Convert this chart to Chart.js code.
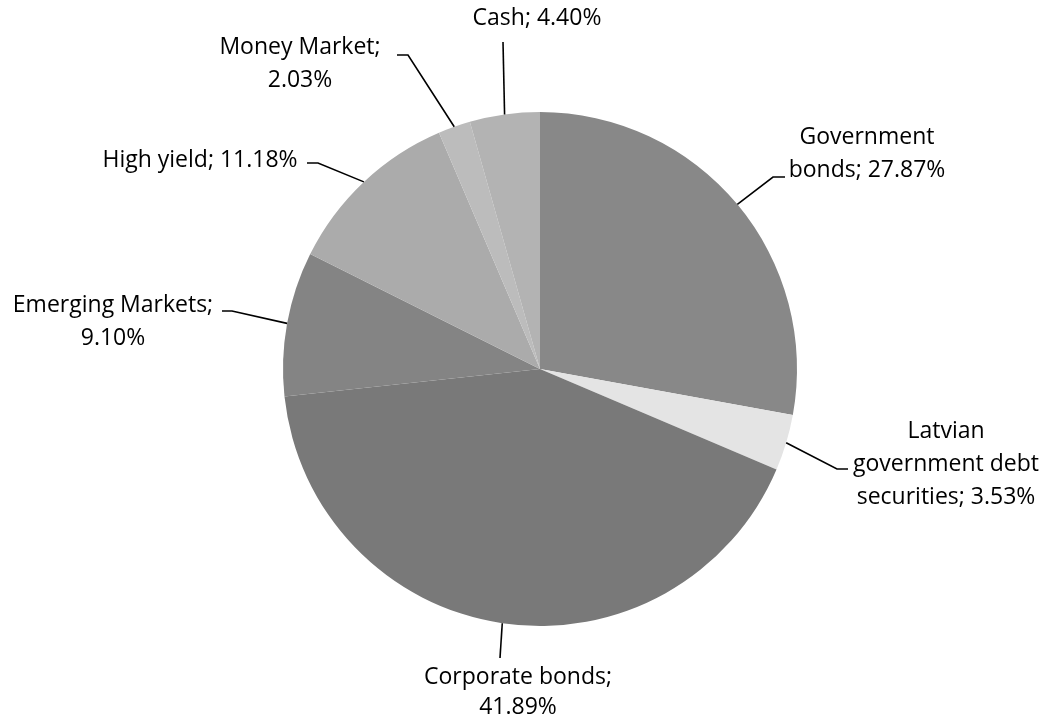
<!DOCTYPE html>
<html>
<head>
<meta charset="utf-8">
<script src="https://cdn.jsdelivr.net/npm/chart.js@4"></script>
<style>
  html, body { margin: 0; padding: 0; background: #fff; }
  #wrap { width: 1045px; height: 717px; }
</style>
</head>
<body>
<div id="wrap"><canvas id="pieChart"></canvas></div>
<script>
// Dados do gráfico
const categories = ['Government bonds', 'Latvian government debt securities', 'Corporate bonds',
    'Emerging Markets', 'High yield', 'Money Market', 'Cash'];
const shares = [27.87, 3.53, 41.89, 9.10, 11.18, 2.03, 4.40];
const labelLines = [
    ['Government', 'bonds; 27.87%'],
    ['Latvian', 'government debt', 'securities; 3.53%'],
    ['Corporate bonds;', '41.89%'],
    ['Emerging Markets;', '9.10%'],
    ['High yield; 11.18%'],
    ['Money Market;', '2.03%'],
    ['Cash; 4.40%']
];
const sliceColors = ['#888888', '#e4e4e4', '#797979', '#848484', '#ababab', '#bcbcbc', '#b3b3b3'];

// Posição dos rótulos (relativa ao centro da pizza)
const labelLayout = [
    { path: [[233, -192], [245, -192]], text: [327, -232], gap: 33 },
    { path: [[297, 100], [308, 100]], text: [406, 62], gap: 33 },
    { path: [[-40, 289]], text: [-22, 308], gap: 30 },
    { path: [[-308, -58], [-318, -58]], text: [-427, -64], gap: 33 },
    { path: [[-222, -206], [-233, -206]], text: [-340, -209], gap: 32 },
    { path: [[-132, -314], [-143, -314]], text: [-240, -322], gap: 33 },
    { path: [[-37, -327]], text: [-3, -351], gap: 32 }
];

// Plugin: linhas de chamada + rótulos
const calloutPlugin = {
    id: 'callouts',
    afterDraw(chart) {
        const ctx = chart.ctx;
        const arcs = chart.getDatasetMeta(0).data;
        ctx.save();
        ctx.strokeStyle = '#000';
        ctx.lineWidth = 1.6;
        ctx.fillStyle = '#000';
        ctx.font = '23px "Open Sans", sans-serif';
        ctx.textAlign = 'center';
        ctx.textBaseline = 'middle';
        arcs.forEach((arc, i) => {
            const p = arc.getProps(['x', 'y', 'startAngle', 'endAngle', 'outerRadius'], true);
            const mid = (p.startAngle + p.endAngle) / 2;
            const ex = p.x + Math.cos(mid) * p.outerRadius;
            const ey = p.y + Math.sin(mid) * p.outerRadius;
            const lay = labelLayout[i];
            ctx.beginPath();
            ctx.moveTo(ex, ey);
            lay.path.forEach(pt => ctx.lineTo(p.x + pt[0], p.y + pt[1]));
            ctx.stroke();
            labelLines[i].forEach((line, k) => {
                ctx.fillText(line, p.x + lay.text[0], p.y + lay.text[1] + k * lay.gap);
            });
        });
        ctx.restore();
    }
};

const pieCtx = document.getElementById('pieChart').getContext('2d');
const pieChart = new Chart(pieCtx, {
    type: 'pie',
    data: {
        labels: categories,
        datasets: [{
            data: shares,
            backgroundColor: sliceColors,
            borderWidth: 0
        }]
    },
    options: {
        responsive: true,
        maintainAspectRatio: false,
        animation: false,
        layout: { padding: { top: 112, bottom: 91, left: 283, right: 248 } },
        plugins: {
            legend: { display: false },
            tooltip: { enabled: false }
        }
    },
    plugins: [calloutPlugin]
});
</script>
</body>
</html>
